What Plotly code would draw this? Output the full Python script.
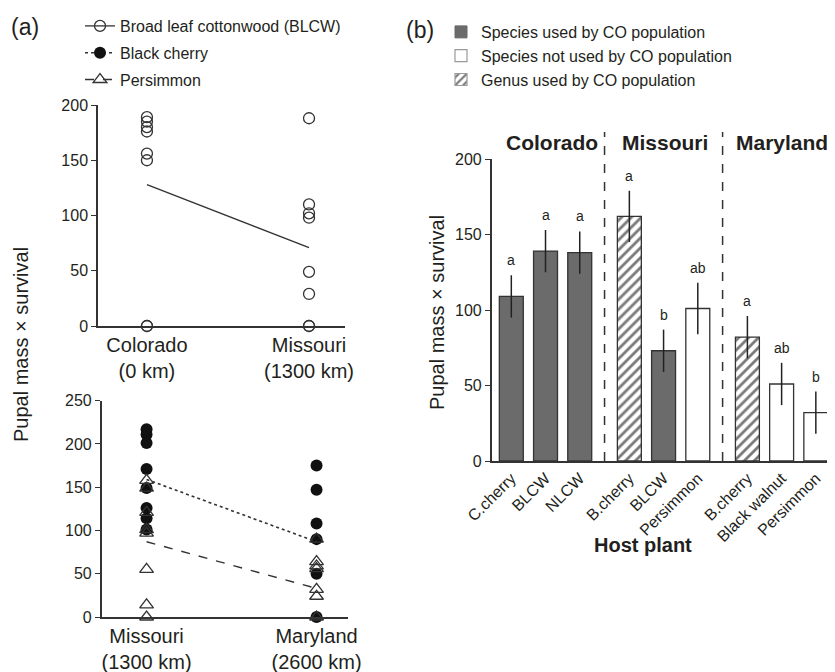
import plotly.graph_objects as go

# ---------------- Data ----------------
# Panel (a) top: Broad leaf cottonwood (BLCW)
top_sites = ["Colorado<br>(0 km)", "Missouri<br>(1300 km)"]
blcw_colorado = [189, 185, 180, 176, 156, 150, 0, 0]
blcw_missouri = [188, 110, 102, 98, 49, 29, 0, 0]
blcw_means = [128, 71]

# Panel (a) bottom: Black cherry and Persimmon
bottom_sites = ["Missouri<br>(1300 km)", "Maryland<br>(2600 km)"]
bcherry_missouri = [217, 211, 201, 171, 149, 126, 114, 101]
bcherry_maryland = [175, 147, 108, 90, 50, 0]
pers_missouri = [158, 149, 121, 101, 97, 55, 14, 0]
pers_maryland = [90, 64, 59, 56, 32, 24, 0]
bcherry_means = [159, 87]
pers_means = [87, 33]

# Panel (b): bars
regions = ["Colorado", "Missouri", "Maryland"]
hosts = ["C.cherry", "BLCW", "NLCW",
         "B.cherry", "BLCW", "Persimmon",
         "B.cherry", "Black walnut", "Persimmon"]
bar_region = ["Colorado"] * 3 + ["Missouri"] * 3 + ["Maryland"] * 3
bar_means = [109, 139, 138, 162, 73, 101, 82, 51, 32]
bar_errs = [14, 14, 14, 17, 14, 17, 14, 14, 14]
bar_use = ["used", "used", "used", "genus", "used", "not", "genus", "not", "not"]
bar_letters = ["a", "a", "a", "a", "b", "ab", "a", "ab", "b"]
legend_b = {"used": "Species used by CO population",
            "not": "Species not used by CO population",
            "genus": "Genus used by CO population"}

# ---------------- Styles ----------------
FONT = "Arial, Liberation Sans, sans-serif"
TXT = "#231f20"
AX = "#333333"
DARK = "#6b6b6b"
OFF = 8                      # page body margin
W, H = 835 - OFF, 672 - OFF  # figure size so it fits the window

def px(xp):
    return (xp - OFF) / W

def py(yp):
    return 1 - (yp - OFF) / H

fig = go.Figure()

# ---- Panel (a) top ----
for i, vals in enumerate([blcw_colorado, blcw_missouri]):
    fig.add_trace(go.Scatter(
        x=[i] * len(vals), y=vals, mode="markers", cliponaxis=False,
        marker=dict(symbol="circle-open", size=11, color=AX, line=dict(width=1.3)),
        showlegend=False, xaxis="x", yaxis="y"))
fig.add_trace(go.Scatter(x=[0, 1], y=blcw_means, mode="lines",
                         line=dict(color=AX, width=1.4), showlegend=False,
                         xaxis="x", yaxis="y"))

# ---- Panel (a) bottom ----
for i, vals in enumerate([bcherry_missouri, bcherry_maryland]):
    fig.add_trace(go.Scatter(
        x=[i] * len(vals), y=vals, mode="markers", cliponaxis=False,
        marker=dict(symbol="circle", size=12, color="#111111"),
        showlegend=False, xaxis="x2", yaxis="y2"))
for i, vals in enumerate([pers_missouri, pers_maryland]):
    fig.add_trace(go.Scatter(
        x=[i] * len(vals), y=vals, mode="markers", cliponaxis=False,
        marker=dict(symbol="triangle-up-open", size=12, color=AX, line=dict(width=1.3)),
        showlegend=False, xaxis="x2", yaxis="y2"))
fig.add_trace(go.Scatter(x=[0, 1], y=bcherry_means, mode="lines",
                         line=dict(color=AX, width=1.6, dash="dot"), showlegend=False,
                         xaxis="x2", yaxis="y2"))
fig.add_trace(go.Scatter(x=[0, 1], y=pers_means, mode="lines",
                         line=dict(color=AX, width=1.4, dash="dash"), showlegend=False,
                         xaxis="x2", yaxis="y2"))

# Legend (a) entries
fig.add_trace(go.Scatter(x=[None], y=[None], mode="lines+markers", name="Broad leaf cottonwood (BLCW)",
                         line=dict(color=AX, width=1.3),
                         marker=dict(symbol="circle-open", size=11, color=AX, line=dict(width=1.3)),
                         legend="legend", legendgroup="a1", xaxis="x", yaxis="y"))
fig.add_trace(go.Scatter(x=[None], y=[None], mode="lines+markers", name="Black cherry",
                         line=dict(color=AX, width=1.6, dash="dot"),
                         marker=dict(symbol="circle", size=12, color="#111111"),
                         legend="legend", legendgroup="a2", xaxis="x", yaxis="y"))
fig.add_trace(go.Scatter(x=[None], y=[None], mode="lines+markers", name="Persimmon",
                         line=dict(color=AX, width=1.4, dash="dash"),
                         marker=dict(symbol="triangle-up-open", size=12, color=AX, line=dict(width=1.3)),
                         legend="legend", legendgroup="a3", xaxis="x", yaxis="y"))

# ---- Panel (b) ----
GAP = 0.45
xpos = []
for k, r in enumerate(bar_region):
    g = regions.index(r)
    xpos.append(k + g * GAP)

def bar_style(u):
    if u == "used":
        return dict(color=DARK, line=dict(color=AX, width=1.3))
    if u == "not":
        return dict(color="white", line=dict(color=AX, width=1.3))
    return dict(color="white", line=dict(color=AX, width=1.3),
                pattern=dict(shape="/", fgcolor="#7a7a7a", bgcolor="white",
                             size=7, solidity=0.4))

for k in range(len(hosts)):
    fig.add_trace(go.Bar(
        x=[xpos[k]], y=[bar_means[k]], width=0.7,
        marker=bar_style(bar_use[k]),
        error_y=dict(type="data", array=[bar_errs[k]], color="#222222",
                     thickness=1.5, width=0),
        showlegend=False, xaxis="x3", yaxis="y3"))

# Legend (b) entries
for u in ["used", "not", "genus"]:
    st = bar_style(u)
    st["line"] = dict(color="#9a9a9a", width=1.2)
    if u == "used":
        st["line"] = dict(color=DARK, width=1)
    fig.add_trace(go.Bar(x=[None], y=[None], name=legend_b[u], marker=st,
                         legend="legend2", xaxis="x3", yaxis="y3"))

annotations = []
for k in range(len(hosts)):
    annotations.append(dict(
        x=xpos[k], y=bar_means[k] + bar_errs[k], xref="x3", yref="y3",
        text=bar_letters[k], showarrow=False, xanchor="center", yanchor="bottom", yshift=5,
        font=dict(size=14, color=TXT, family=FONT)))

def label(xp, yp, text, size, angle=0):
    return dict(x=px(xp), y=py(yp), xref="paper", yref="paper", text=text,
                showarrow=False, xanchor="center", yanchor="middle", textangle=angle,
                font=dict(size=size, color=TXT, family=FONT))

# group labels
for name, xc in zip(regions, [552, 665, 782]):
    annotations.append(label(xc, 142, "<b>%s</b>" % name, 21))

annotations += [
    label(25, 27, "(a)", 23),
    label(420, 30, "(b)", 23),
    label(21, 345, "Pupal mass × survival", 20, -90),
    label(437, 313, "Pupal mass × survival", 20, -90),
    label(643, 545, "<b>Host plant</b>", 20),
]

# dashed dividers between regions
shapes = []
for g in range(1, len(regions)):
    xd = (xpos[3 * g - 1] + xpos[3 * g]) / 2
    shapes.append(dict(type="line", xref="x3", yref="paper", x0=xd, x1=xd,
                       y0=py(461), y1=py(132),
                       line=dict(color=AX, width=1.5, dash="dash")))

tickfont = dict(size=16, color=TXT, family=FONT)
axis_common = dict(showline=True, linecolor=AX, linewidth=1.5, showgrid=False,
                   zeroline=False, tickfont=tickfont, automargin=False)
xaxis_common = dict(showline=True, linecolor=AX, linewidth=1.5, showgrid=False,
                    zeroline=False, ticks="", automargin=False)

fig.update_layout(
    template="none",
    width=W, height=H, margin=dict(l=0, r=0, t=0, b=0, pad=0),
    paper_bgcolor="white", plot_bgcolor="white",
    font=dict(family=FONT, color=TXT),
    barmode="overlay",
    xaxis=dict(domain=[px(98), px(345)], range=[-0.302, 1.222], tickvals=[0, 1],
               ticktext=top_sites, anchor="y",
               tickfont=dict(size=20, color=TXT, family=FONT), **xaxis_common),
    yaxis=dict(domain=[py(326), py(105)], range=[0, 200], tickvals=[0, 50, 100, 150, 200],
               ticks="outside", ticklen=5, tickcolor=AX, anchor="x", **axis_common),
    xaxis2=dict(domain=[px(101.7), px(348)], range=[-0.264, 1.185], tickvals=[0, 1],
                ticktext=bottom_sites, anchor="y2",
                tickfont=dict(size=20, color=TXT, family=FONT), **xaxis_common),
    yaxis2=dict(domain=[py(617), py(400.7)], range=[0, 250],
                tickvals=[0, 50, 100, 150, 200, 250],
                ticks="outside", ticklen=5, tickcolor=AX, anchor="x2", **axis_common),
    xaxis3=dict(domain=[px(491.7), 1.0], range=[-0.573, 9.46], tickvals=xpos,
                ticktext=hosts, tickangle=-45, anchor="y3",
                tickfont=dict(size=16, color=TXT, family=FONT), **xaxis_common),
    yaxis3=dict(domain=[py(461), py(159)], range=[0, 200], tickvals=[0, 50, 100, 150, 200],
                ticks="outside", ticklen=5, tickcolor=AX, anchor="x3", **axis_common),
    legend=dict(x=px(80), y=py(9), xanchor="left", yanchor="top",
                font=dict(size=16, color=TXT, family=FONT), bgcolor="rgba(0,0,0,0)",
                tracegroupgap=3, borderwidth=0),
    legend2=dict(x=px(441), y=py(15), xanchor="left", yanchor="top",
                 font=dict(size=16, color=TXT, family=FONT), bgcolor="rgba(0,0,0,0)",
                 traceorder="normal", borderwidth=0),
    annotations=annotations,
    shapes=shapes,
)

fig.write_html("out.html")
